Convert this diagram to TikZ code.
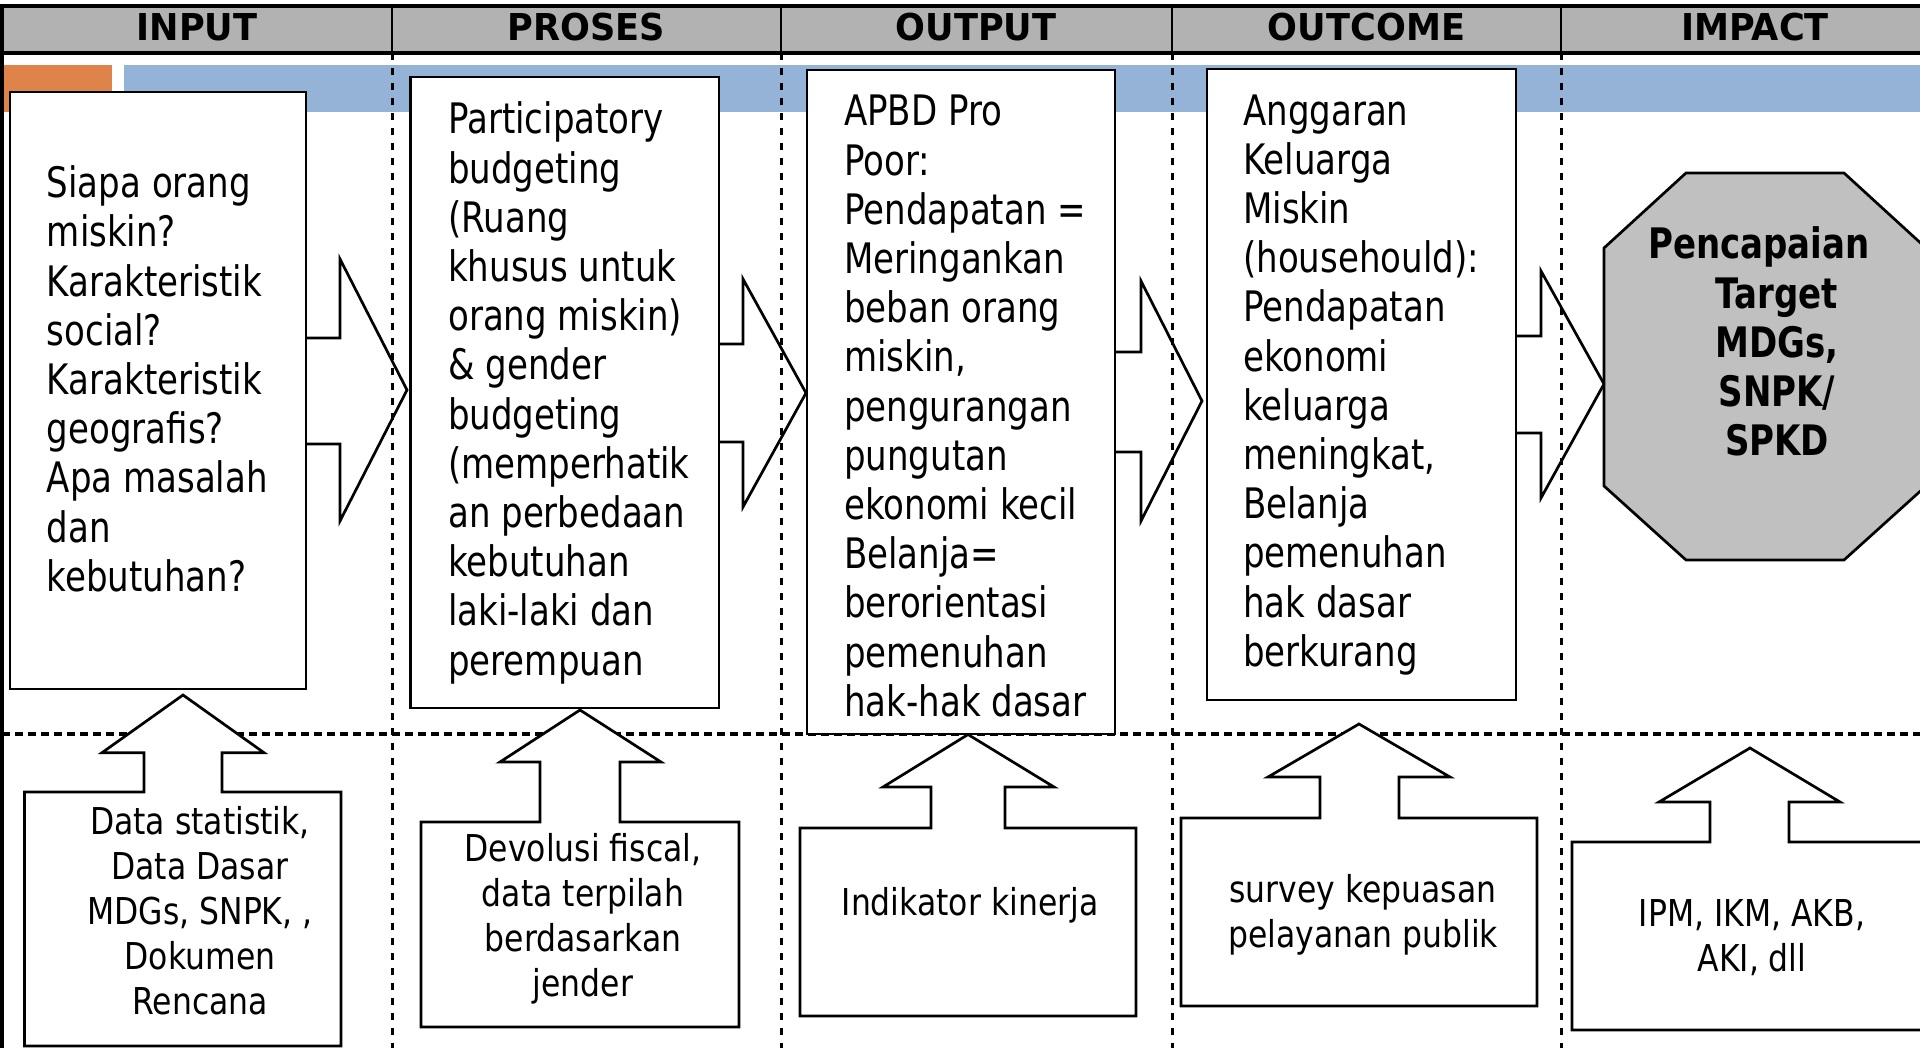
\documentclass[tikz,border=0pt]{standalone}
\usepackage{fontspec}
\setmainfont{DejaVu Sans}
\newfontfamily\upfont{DejaVu Sans}[FakeStretch=0.81]
\newfontfamily\lowfont{DejaVu Sans}[FakeStretch=0.85]
\newfontfamily\hdfont{DejaVu Sans}[FakeStretch=0.95]
\definecolor{hdrgray}{RGB}{178,178,178}
\definecolor{octgray}{RGB}{192,192,192}
\definecolor{bandblue}{RGB}{149,179,215}
\definecolor{bandorange}{RGB}{222,131,73}
\tikzset{
  boxline/.style={draw=black, line width=2.7pt, fill=white, line join=miter},
  bigbox/.style={boxline, inner sep=0pt, outer sep=0pt},
  blockarrow/.style={boxline},
  octa/.style={draw=black, line width=2.7pt, fill=octgray},
  uptext/.style={anchor=north west, inner sep=0pt, align=left, font=\upfont\fontsize{42}{49.2}\selectfont},
  octtext/.style={anchor=north, inner sep=0pt, align=center, font=\upfont\bfseries\fontsize{42}{49.2}\selectfont},
  lowtext/.style={anchor=north, inner sep=0pt, align=center, font=\lowfont\fontsize{37}{45}\selectfont},
  hdrtext/.style={anchor=base, inner sep=0pt, font=\hdfont\bfseries\fontsize{37}{44}\selectfont},
  divider/.style={line width=3pt, dash pattern=on 7pt off 8pt},
  hdash/.style={line width=3.4pt, dash pattern=on 8pt off 5pt},
  hdrline/.style={line width=2.7pt},
}
\begin{document}
\begin{tikzpicture}[x=1pt,y=-1pt]
\useasboundingbox (0,0) rectangle (1920,1048);
\clip (0,0) rectangle (1920,1048);
\fill[white] (0,0) rectangle (1920,1048);
% header and bands
\fill[hdrgray] (2,6) rectangle (1920,53);
\fill[bandorange] (3,65) rectangle (112,112.5);
\fill[bandblue] (124,65) rectangle (1920,112.5);
% horizontal dashed separator
\draw[hdash] (2,734) -- (1920,734);
% upper boxes
\path (158,390.5) coordinate (c1) (564.85,392.5) coordinate (c2) (961,402) coordinate (c3) (1361.5,384.5) coordinate (c4);
\node[bigbox, minimum width=296pt, minimum height=597pt] (in1) at (c1) {};
\node[bigbox, minimum width=308.3pt, minimum height=631pt] (pr1) at (c2) {};
\node[bigbox, minimum width=308pt, minimum height=664pt] (ou1) at (c3) {};
\node[bigbox, minimum width=309pt, minimum height=631pt] (oc1) at (c4) {};
% right block arrows
\draw[blockarrow] (in1.east |- 0,338) -- (340,338) -- (340,259) -- (407,390) -- (340,521) -- (340,444) -- (in1.east |- 0,444);
\draw[blockarrow] (pr1.east |- 0,344) -- (743,344) -- (743,279) -- (806,393) -- (743,507) -- (743,442) -- (pr1.east |- 0,442);
\draw[blockarrow] (ou1.east |- 0,352) -- (1141,352) -- (1141,281) -- (1202,401) -- (1141,521) -- (1141,452) -- (ou1.east |- 0,452);
\draw[blockarrow] (oc1.east |- 0,336) -- (1541,336) -- (1541,271) -- (1604,384) -- (1541,498) -- (1541,433) -- (oc1.east |- 0,433);
% redraw box borders over arrow joins
\draw[line width=2.7pt] (in1.north east) -- (in1.south east);
\draw[line width=2.7pt] (pr1.north east) -- (pr1.south east);
\draw[line width=2.7pt] (ou1.north east) -- (ou1.south east);
\draw[line width=2.7pt] (oc1.north east) -- (oc1.south east);
% octagon
\draw[octa] (1604,248) -- (1686,173) -- (1844,173) -- (1926,248) -- (1926,486) -- (1844,560) -- (1686,560) -- (1604,486) -- cycle;
% bottom boxes with up arrows
\draw[boxline] (24.5,1046) -- (24.5,792) -- (144,792) -- (144,752.7) -- (102,752.7) -- (183,695) -- (264,752.7) -- (222,752.7) -- (222,792) -- (341,792) -- (341,1046) -- cycle;
\draw[boxline] (421,1027) -- (421,822) -- (540,822) -- (540,762) -- (500,762) -- (580,710) -- (661,762) -- (620,762) -- (620,822) -- (739,822) -- (739,1027) -- cycle;
\draw[boxline] (800,1016) -- (800,828) -- (931,828) -- (931,787) -- (883,787) -- (968,734.5) -- (1054,787) -- (1005,787) -- (1005,828) -- (1136,828) -- (1136,1016) -- cycle;
\draw[boxline] (1181,1006) -- (1181,818) -- (1320,818) -- (1320,777) -- (1268,777) -- (1359,724) -- (1450,777) -- (1399,777) -- (1399,818) -- (1537,818) -- (1537,1006) -- cycle;
\draw[boxline] (1572,1030) -- (1572,842) -- (1710,842) -- (1710,802) -- (1659,802) -- (1750,748) -- (1840,802) -- (1789,802) -- (1789,842) -- (1928,842) -- (1928,1030) -- cycle;
% vertical dashed dividers
\foreach \xx in {392,781,1172,1561} \draw[divider] (\xx,53) -- (\xx,1048);
% header lines
\foreach \xx in {392,781,1172,1561} \draw[hdrline] (\xx,6) -- (\xx,53);
\draw[line width=3.5pt] (0,6) -- (1920,6);
\draw[line width=4pt] (0,53) -- (1920,53);
\draw[line width=3.5pt] (2,4.25) -- (2,1048);
% header texts
\node[hdrtext] (h1) at (197,40.8) {INPUT};
\node[hdrtext] (h2) at (586.5,40.8) {PROSES};
\node[hdrtext] (h3) at (976,40.8) {OUTPUT};
\node[hdrtext] (h4) at (1366.5,40.8) {OUTCOME};
\node[hdrtext] (h5) at (1755,40.8) {IMPACT};
% upper texts
\node[uptext] (t1) at (46.7,163.1) {\strut Siapa orang\\miskin?\\Karakteristik\\social?\\Karakteristik\\geografis?\\Apa masalah\\dan\\kebutuhan?};
\node[uptext] (t2) at (448,99.3) {\strut Participatory\\budgeting\\(Ruang\\khusus untuk\\orang miskin)\\\& gender\\budgeting\\(memperhatik\\an perbedaan\\kebutuhan\\laki-laki dan\\perempuan};
\node[uptext] (t3) at (844,91.2) {\strut APBD Pro\\Poor:\\Pendapatan =\\Meringankan\\beban orang\\miskin,\\pengurangan\\pungutan\\ekonomi kecil\\Belanja=\\berorientasi\\pemenuhan\\hak-hak dasar};
\node[uptext] (t4) at (1243,90.4) {\strut Anggaran\\Keluarga\\Miskin\\(househould):\\Pendapatan\\ekonomi\\keluarga\\meningkat,\\Belanja\\pemenuhan\\hak dasar\\berkurang};
\node[octtext] (t5) at (1777,224.3) {\strut Pencapaian\kern36pt\\Target\\MDGs,\\SNPK/\\SPKD};
% lower texts
\node[lowtext] (b1) at (200,802.5) {\strut Data statistik,\\Data Dasar\\MDGs, SNPK, ,\\Dokumen\\Rencana};
\node[lowtext] (b2) at (583,830.2) {\strut Devolusi fiscal,\\data terpilah\\berdasarkan\\jender};
\node[lowtext] (b3) at (970,883.5) {\strut Indikator kinerja};
\node[lowtext] (b4) at (1363,871.2) {\strut survey kepuasan\\pelayanan publik};
\node[lowtext] (b5) at (1752,895.2) {\strut IPM, IKM, AKB,\\AKI, dll};
\end{tikzpicture}
\end{document}
